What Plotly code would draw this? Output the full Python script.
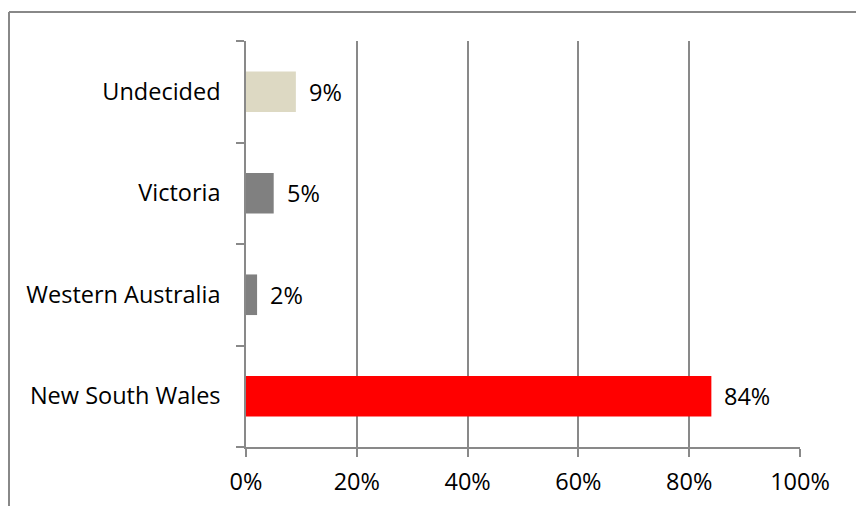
import plotly.graph_objects as go

categories = ["New South Wales", "Western Australia", "Victoria", "Undecided"]
values = [84, 2, 5, 9]
colors = ["#FF0000", "#808080", "#808080", "#DDD9C3"]
x_ticks = [0, 20, 40, 60, 80, 100]
x_tick_labels = ["0%", "20%", "40%", "60%", "80%", "100%"]

FONT = "'Open Sans', sans-serif"
FS = 23.5
GRID = "#898989"

fig = go.Figure()
fig.add_trace(go.Bar(
    y=categories, x=values, orientation="h",
    marker=dict(color=colors, line=dict(width=0)),
    width=0.4, hoverinfo="skip",
))

for c, v in zip(categories, values):
    fig.add_annotation(x=v, y=c, text=f"{v}%", showarrow=False,
                       xanchor="left", yanchor="middle", xshift=11,
                       font=dict(family=FONT, size=FS, color="#000000"))

L, R, T, B = 246, 56, 41, 59
W, H = 856, 506
pw, ph = W - L - R, H - T - B

# outer chart border (top and left)
bx = (9 - L) / pw
by = (H - B - 12) / ph
fig.add_shape(type="line", xref="paper", yref="paper", x0=bx, x1=(W - L) / pw + 0.01,
              y0=by, y1=by, line=dict(color="#888888", width=2))
fig.add_shape(type="line", xref="paper", yref="paper", x0=bx, x1=bx,
              y0=by, y1=-(B + 5) / ph, line=dict(color="#888888", width=2))

fig.update_layout(
    width=W, height=H,
    margin=dict(l=L, r=R, t=T, b=B, pad=0, autoexpand=False),
    paper_bgcolor="white", plot_bgcolor="white",
    showlegend=False,
    font=dict(family=FONT, size=FS, color="#000000"),
    bargap=0.6,
)
fig.update_xaxes(
    range=[0, 100], tickvals=x_ticks, ticktext=x_tick_labels,
    showgrid=True, gridcolor=GRID, gridwidth=1.5,
    showline=True, linecolor=GRID, linewidth=1.5,
    ticks="outside", ticklen=8, tickcolor=GRID, tickwidth=1.5,
    zeroline=False, fixedrange=True, ticklabelstandoff=5, automargin=False,
    tickfont=dict(family=FONT, size=FS, color="#000000"),
)
fig.update_yaxes(
    type="category", categoryorder="array", categoryarray=categories,
    showgrid=False, showline=True, linecolor=GRID, linewidth=1.5,
    ticks="outside", ticklen=8, tickcolor=GRID, tickwidth=1.5,
    tickson="boundaries", ticklabelstandoff=19, automargin=False,
    tickfont=dict(family=FONT, size=FS, color="#000000"),
    fixedrange=True,
)

fig.write_html("out.html")
